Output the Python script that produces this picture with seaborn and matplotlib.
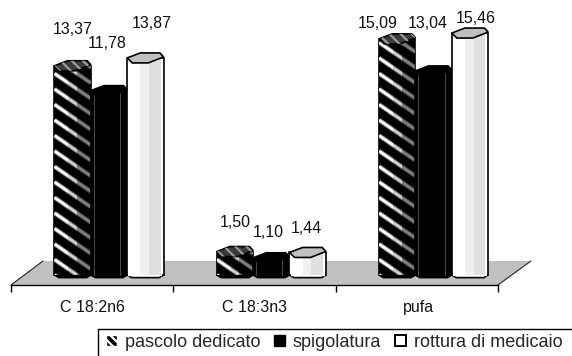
import matplotlib
matplotlib.use("Agg")
import matplotlib.pyplot as plt
import pandas as pd
import seaborn as sns
from matplotlib.lines import Line2D
from matplotlib.patches import Patch, Polygon, Rectangle
from matplotlib.transforms import Affine2D

# data
acids = ["C 18:2n6", "C 18:3n3", "pufa"]
treatments = ["pascolo dedicato", "spigolatura", "rottura di medicaio"]
pascolo = [13.37, 1.50, 15.09]
spigolatura = [11.78, 1.10, 13.04]
rottura = [13.87, 1.44, 15.46]

# label nudges in pixels (dx, dy up) from the top centre of each bar
label_nudge = [
    [(0, 36), (-2, 47), (6, 34)],
    [(0, 29), (-3, 25), (-1, 24)],
    [(-20, 15), (-6, 47), (6, 15)],
]

W, H = 572, 356
PX_PER_UNIT = 15.65
BASE_Y = 275
CAT_STEP = 162.3
FIRST_CENTRE = 109
FONT = 11.5

sns.set_theme(style="white")
plt.rcParams["font.family"] = ["Liberation Sans", "DejaVu Sans"]
plt.rcParams["hatch.linewidth"] = 1.6

df = pd.DataFrame({
    "acido": acids * 3,
    "tesi": sum([[t] * 3 for t in treatments], []),
    "valore": pascolo + spigolatura + rottura,
})

fig = plt.figure(figsize=(W / 100, H / 100), dpi=100)
# axes run from the first tick to the last, axis line sits at y=285 px
ax = fig.add_axes([11 / W, (H - 285) / H, (498 - 11) / W, 285 / H])

sns.barplot(data=df, x="acido", y="valore", hue="tesi", order=acids, hue_order=treatments,
            palette=["black", "black", "white"], width=0.672, gap=0, dodge=True,
            edgecolor="black", linewidth=1.2, legend=False, ax=ax, zorder=3)

ax.set_xlim((11 - FIRST_CENTRE) / CAT_STEP, (498 - FIRST_CENTRE) / CAT_STEP)
ax.set_ylim((BASE_Y - 285) / PX_PER_UNIT, BASE_Y / PX_PER_UNIT)

for name in ["top", "left", "right"]:
    ax.spines[name].set_visible(False)
ax.spines["bottom"].set_color("black")
ax.spines["bottom"].set_linewidth(1.0)
ax.set_yticks([])
ax.set_xlabel("")
ax.set_ylabel("")

# boundary ticks on the axis, the names on invisible minor ticks
x0 = ax.get_xlim()[0]
ax.set_xticks([x0 + i * (487 / 3) / CAT_STEP for i in range(4)])
ax.set_xticklabels([])
ax.set_xticks([(p - FIRST_CENTRE) / CAT_STEP for p in (92, 255, 418)], minor=True)
ax.set_xticklabels(acids, minor=True, fontsize=FONT, color="#111111")
ax.tick_params(axis="x", which="major", length=5, width=1, color="black", bottom=True)
ax.tick_params(axis="x", which="minor", length=0, pad=11)

# grey floor behind the bars, only the side edges are outlined
to_px = Affine2D().scale(1, -1).translate(0, H)
ax.add_patch(Polygon([(11, 285), (498, 285), (531, 261), (43, 261)], closed=True, transform=to_px,
                     facecolor="#c0c0c0", edgecolor="none", zorder=1, clip_on=False))
for xs, ys in [((11, 43), (285, 261)), ((498, 531), (285, 261))]:
    ax.add_line(Line2D(xs, ys, transform=to_px, color="#222222", linewidth=0.8, zorder=1.5, clip_on=False))

values = [pascolo, spigolatura, rottura]
bars = [b for b in ax.patches if isinstance(b, Rectangle) and b.get_width() > 0][:9]

facets = {0: [(0.38, 0.62, 0.18), (0.62, 1.0, 0.5)],
          1: [],
          2: [(0.36, 0.60, 0.06), (0.60, 0.92, 0.12)]}

dy = 1 / PX_PER_UNIT
for s in range(3):
    for c in range(3):
        bar = bars[s * 3 + c]
        left, w, top = bar.get_x(), bar.get_width(), bar.get_height()
        bar.set_zorder(3 + s)

        # rounded foot, its top line is painted out so it merges with the bar
        ax.add_patch(Polygon([(left, 0), (left + 0.12 * w, -2.6 * dy), (left + 0.88 * w, -2.6 * dy),
                              (left + w, 0)], closed=True, facecolor=bar.get_facecolor(),
                             edgecolor="black", linewidth=1.2, zorder=2.9 + s, clip_on=False))
        ax.plot([left + 0.03 * w, left + 0.97 * w], [0, 0], color=bar.get_facecolor(), linewidth=1.6,
                solid_capstyle="butt", zorder=3.1 + s)

        # diagonal stripes of the first series, grey under white for the soft edge
        if s == 0:
            step = 15.5 * dy
            y = -step
            while y < top + 3 * step:
                for colour, lw, z in (("#707070", 3.4, 3.15), ("white", 2.0, 3.2)):
                    line = Line2D([left, left + w], [y, y - 25 * dy], color=colour, linewidth=lw,
                                  solid_capstyle="butt", zorder=z)
                    ax.add_line(line)
                    line.set_clip_path(bar)
                y += step

        # side shading
        for a, b, alpha in facets[s]:
            ax.add_patch(Rectangle((left + a * w, 0), (b - a) * w, top, facecolor="black", alpha=alpha,
                                   linewidth=0, zorder=3.3 + s))
        if s == 1:
            for f in (0.08, 0.80):
                ax.plot([left + f * w] * 2, [0, top - dy], color="#555555", linewidth=0.6, zorder=4.3)

        # lid
        cap_colour = {0: "#3a3a3a", 1: "black", 2: "#c0c0c0"}[s]
        lid = [(left, top), (left + 0.36 * w, top + 5 * dy), (left + 0.90 * w, top + 5 * dy),
               (left + w, top + 1 * dy), (left + 0.58 * w, top - 5 * dy), (left + 0.14 * w, top - 5 * dy)]
        ax.add_patch(Polygon(lid, closed=True, facecolor=cap_colour, edgecolor="black", linewidth=1.2,
                             zorder=4.5 + s, clip_on=False))
        if s == 0:
            ax.add_patch(Polygon(lid, closed=True, fill=False, hatch="\\\\\\", edgecolor="#9a9a9a",
                                 linewidth=0, zorder=4.6, clip_on=False))

        # value label
        nx, ny = label_nudge[c][s]
        ax.annotate(f"{values[s][c]:.2f}".replace(".", ","), (left + w / 2, top),
                    xytext=(nx * 0.72, ny * 0.72), textcoords="offset points", ha="center", va="center",
                    fontsize=FONT, color="#111111", annotation_clip=False, zorder=9)

handles = [Patch(facecolor="black", edgecolor="white", hatch="\\\\\\\\"),
           Patch(facecolor="black", edgecolor="black"),
           Patch(facecolor="white", edgecolor="black", linewidth=1.4)]
fig.legend(handles, treatments, ncol=3, loc="upper left", bbox_to_anchor=(106 / W, (H - 334) / H),
           bbox_transform=fig.transFigure, borderaxespad=0, fontsize=13, frameon=False,
           handlelength=0.6, handleheight=0.6, handletextpad=0.45, columnspacing=0.75, borderpad=0)

# the legend box is cut by the picture edge: only its top and left lines show
fig.add_artist(Line2D([98, 572], [329, 329], transform=to_px, color="black", linewidth=1.0))
fig.add_artist(Line2D([98, 98], [329, 356], transform=to_px, color="black", linewidth=1.0))

fig.savefig("out.png", dpi=100, facecolor="white")
